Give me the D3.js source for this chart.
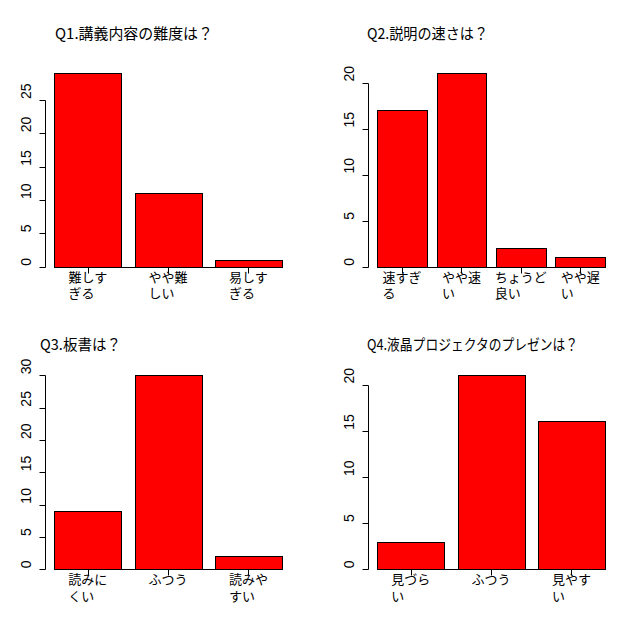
<!DOCTYPE html>
<html>
<head>
<meta charset="utf-8">
<script src="https://cdn.jsdelivr.net/npm/d3@7"></script>
<style>
  html, body { margin: 0; padding: 0; background: #fff; }
  svg { display: block; }
</style>
</head>
<body>
<svg id="chart" width="628" height="623"></svg>
<script>
// ---- data ----
const titles = ["Q1.講義内容の難度は？", "Q2.説明の速さは？", "Q3.板書は？", "Q4.液晶プロジェクタのプレゼンは？"];

const q1Categories = [["難しす", "ぎる"], ["やや難", "しい"], ["易しす", "ぎる"]];
const q1Values = [29, 11, 1];
const q1Ticks = [0, 5, 10, 15, 20, 25];

const q2Categories = [["速すぎ", "る"], ["やや速", "い"], ["ちょうど", "良い"], ["やや遅", "い"]];
const q2Values = [17, 21, 2, 1];
const q2Ticks = [0, 5, 10, 15, 20];

const q3Categories = [["読みに", "くい"], ["ふつう"], ["読みや", "すい"]];
const q3Values = [9, 30, 2];
const q3Ticks = [0, 5, 10, 15, 20, 25, 30];

const q4Categories = [["見づら", "い"], ["ふつう"], ["見やす", "い"]];
const q4Values = [3, 21, 16];
const q4Ticks = [0, 5, 10, 15, 20];

// ---- layout (positions/styles) ----
const cols = [{ left: 45.2, right: 291 }, { left: 368.2, right: 614 }];
const rows = [{ top: 73.3, bottom: 266.7, titleY: 38.5 }, { top: 375.3, bottom: 569.3, titleY: 349.8 }];
const titleLayout = [
  { x: 55, w: 158 }, { x: 367, w: 121 }, { x: 40, w: 81 }, { x: 367, w: 211 }
];

const panels = [
  { title: titles[0], cats: q1Categories, vals: q1Values, ticks: q1Ticks, col: 0, row: 0 },
  { title: titles[1], cats: q2Categories, vals: q2Values, ticks: q2Ticks, col: 1, row: 0 },
  { title: titles[2], cats: q3Categories, vals: q3Values, ticks: q3Ticks, col: 0, row: 1 },
  { title: titles[3], cats: q4Categories, vals: q4Values, ticks: q4Ticks, col: 1, row: 1 }
];

const svg = d3.select("#chart");
const jpFont = "'Noto Sans CJK JP', 'Noto Sans', sans-serif";
const numFont = "'Liberation Sans', Arial, sans-serif";

panels.forEach((p, pi) => {
  const c = cols[p.col], r = rows[p.row];
  const n = p.vals.length;
  const width = 1, space = 0.2;
  // bar positions in barplot units
  const lefts = p.vals.map((_, i) => space + i * (width + space));
  const lo = space, hi = n * (width + space);
  const ext = 0.04 * (hi - lo);
  const x = d3.scaleLinear().domain([lo - ext, hi + ext]).range([c.left, c.right]);
  const y = d3.scaleLinear().domain([0, d3.max(p.vals)]).range([r.bottom, r.top]);

  const g = svg.append("g");

  // title
  g.append("text")
    .attr("x", titleLayout[pi].x)
    .attr("y", r.titleY)
    .attr("textLength", titleLayout[pi].w)
    .attr("lengthAdjust", "spacingAndGlyphs")
    .style("font-family", jpFont)
    .style("font-size", "15px")
    .attr("fill", "#000")
    .text(p.title);

  // bars
  g.selectAll("rect.bar")
    .data(p.vals)
    .enter().append("rect")
    .attr("class", "bar")
    .attr("x", (d, i) => Math.round(x(lefts[i])) + 0.5)
    .attr("width", (d, i) => Math.round(x(lefts[i] + width)) - Math.round(x(lefts[i])))
    .attr("y", d => Math.round(y(d)) + 0.5)
    .attr("height", d => Math.round(y(0)) - Math.round(y(d)))
    .attr("fill", "#ff0000")
    .attr("stroke", "#000")
    .attr("stroke-width", 1);

  // x axis
  const centers = lefts.map(l => x(l + width / 2));
  const y0 = Math.round(y(0)) + 0.5;
  g.append("line")
    .attr("x1", Math.round(centers[0]) + 0.5).attr("x2", Math.round(centers[n - 1]) + 0.5)
    .attr("y1", y0).attr("y2", y0)
    .attr("stroke", "#000").attr("stroke-width", 1);
  centers.forEach((cx, i) => {
    const xx = Math.round(cx) + 0.5;
    g.append("line")
      .attr("x1", xx).attr("x2", xx)
      .attr("y1", y0).attr("y2", y0 + 6)
      .attr("stroke", "#000").attr("stroke-width", 1);
    const lab = g.append("text")
      .style("font-family", jpFont)
      .style("font-size", "13px")
      .attr("fill", "#000");
    p.cats[i].forEach((line, li) => {
      lab.append("tspan").attr("y", y(0) + 15 + li * 16.5).text(line);
    });
    let maxW = 0;
    lab.selectAll("tspan").each(function () {
      maxW = Math.max(maxW, this.getComputedTextLength());
    });
    lab.selectAll("tspan").attr("x", cx - maxW / 2);
  });

  // y axis
  const ax = Math.round(c.left) + 0.5;
  g.append("line")
    .attr("x1", ax).attr("x2", ax)
    .attr("y1", Math.round(y(p.ticks[0])) + 0.5)
    .attr("y2", Math.round(y(p.ticks[p.ticks.length - 1])) + 0.5)
    .attr("stroke", "#000").attr("stroke-width", 1);
  p.ticks.forEach(t => {
    const ty = Math.round(y(t)) + 0.5;
    g.append("line")
      .attr("x1", ax - 6).attr("x2", ax)
      .attr("y1", ty).attr("y2", ty)
      .attr("stroke", "#000").attr("stroke-width", 1);
    g.append("text")
      .attr("transform", `translate(${c.left - 14},${y(t) - 1}) rotate(-90)`)
      .attr("text-anchor", "start")
      .style("font-family", numFont)
      .style("font-size", "14px")
      .attr("fill", "#000")
      .text(t);
  });
});
</script>
</body>
</html>
